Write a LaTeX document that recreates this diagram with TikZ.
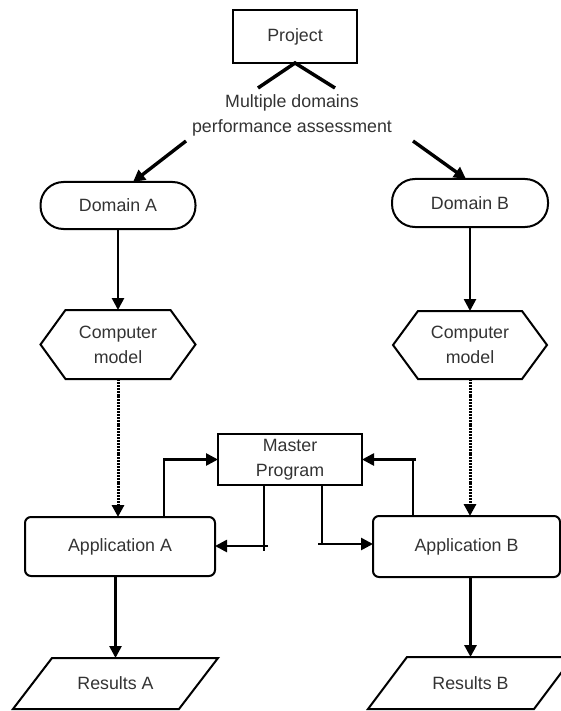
\documentclass[tikz,border=0pt]{standalone}
\usepackage{fontspec}
\setmainfont{Liberation Sans}
\usetikzlibrary{arrows.meta}
\begin{document}
\begin{tikzpicture}[x=1pt,y=-1pt,
  every node/.style={font=\fontsize{17.8}{25}\selectfont, text=black!80, align=center},
  boxline/.style={draw=black, line width=2pt},
  plainbox/.style={boxline, inner sep=0pt, outer sep=0pt},
  frame/.style={inner sep=0pt, outer sep=0pt},
  conn/.style={line width=2.6pt, draw=black},
  arr/.style={conn, -{Triangle[length=12pt,width=12pt]}},
  dotarr/.style={line width=3pt, draw=black, dash pattern=on 2pt off 0.9pt, -{Triangle[length=12pt,width=12pt]}},
  thickln/.style={line width=3.5pt, draw=black}
]
\useasboundingbox (0,0) rectangle (561,711);

% Top
\node[plainbox, minimum width=124pt, minimum height=53pt] (proj) at (295,36.5) {Project};
\node[frame] (mtext) at (292,115) {Multiple domains\\performance assessment};
\coordinate (vl) at (258,88);
\coordinate (vr) at (335,88);
\draw[thickln] (vl) -- (proj.south) -- (vr);

% Domains
\node[plainbox, rounded corners=23pt, minimum width=155pt, minimum height=47pt] (da) at (118,205.5) {Domain A};
\node[plainbox, rounded corners=23pt, minimum width=156pt, minimum height=48pt] (db) at (470,203) {Domain B};
\coordinate (sl) at (186,141);
\coordinate (sr) at (413,141);
\draw[arr, line width=3.4pt] (sl) -- ([xshift=15pt]da.north);
\draw[arr, line width=3.4pt] (sr) -- ([xshift=-4pt]db.north);

% Hexagons
\node[frame, minimum width=155pt, minimum height=69pt] (ha) at (118,344.5) {Computer\\model};
\node[frame, minimum width=154pt, minimum height=68pt] (hb) at (470,345) {Computer\\model};
\foreach \h in {ha,hb}{
  \draw[boxline] ([xshift=25pt]\h.north west) -- ([xshift=-25pt]\h.north east) -- (\h.east)
    -- ([xshift=-25pt]\h.south east) -- ([xshift=25pt]\h.south west) -- (\h.west) -- cycle;
}
\draw[arr] (da.south) -- (ha.north);
\draw[arr] (db.south) -- (hb.north);

% Master program
\node[plainbox, minimum width=144pt, minimum height=51pt] (mp) at (290,459.5) {Master\\Program};

% Applications
\node[plainbox, rounded corners=6pt, minimum width=190pt, minimum height=59pt] (aa) at (120,546.5) {Application A};
\node[plainbox, rounded corners=6pt, minimum width=187pt, minimum height=61pt] (ab) at (466.5,546.5) {Application B};
\draw[dotarr] (ha.south) -- (ha.south |- aa.north);
\draw[dotarr] (hb.south) -- (hb.south |- ab.north);

% Master connections
\draw[arr] (aa.north -| 164,0) |- (mp.west);
\coordinate (tA) at (264,551);
\coordinate (c1) at (268,546);
\draw[conn] (mp.south -| tA) -- (tA);
\draw[arr] (c1) -- (c1 -| aa.east);
\coordinate (tB) at (322,544);
\coordinate (c2) at (318,544);
\draw[conn] (mp.south -| tB) -- (tB);
\draw[arr] (c2) -- (c2 -| ab.west);
\coordinate (c3) at (416,459.5);
\draw[conn] (ab.north -| 413,0) -- (413,459.5) -- (c3);
\draw[arr] (c3) -- (mp.east);

% Results
\node[frame, minimum width=205pt, minimum height=51pt] (ra) at (115.5,683.5) {Results A};
\node[frame, minimum width=205pt, minimum height=52pt] (rb) at (470.5,683) {Results B};
\foreach \r in {ra,rb}{
  \draw[boxline] ([xshift=39pt]\r.north west) -- (\r.north east) -- ([xshift=-39pt]\r.south east) -- (\r.south west) -- cycle;
}
\draw[arr] (aa.south -| ra.north) -- (ra.north);
\draw[arr, line width=3.2pt] (ab.south -| rb.north) -- (rb.north);
\end{tikzpicture}
\end{document}
